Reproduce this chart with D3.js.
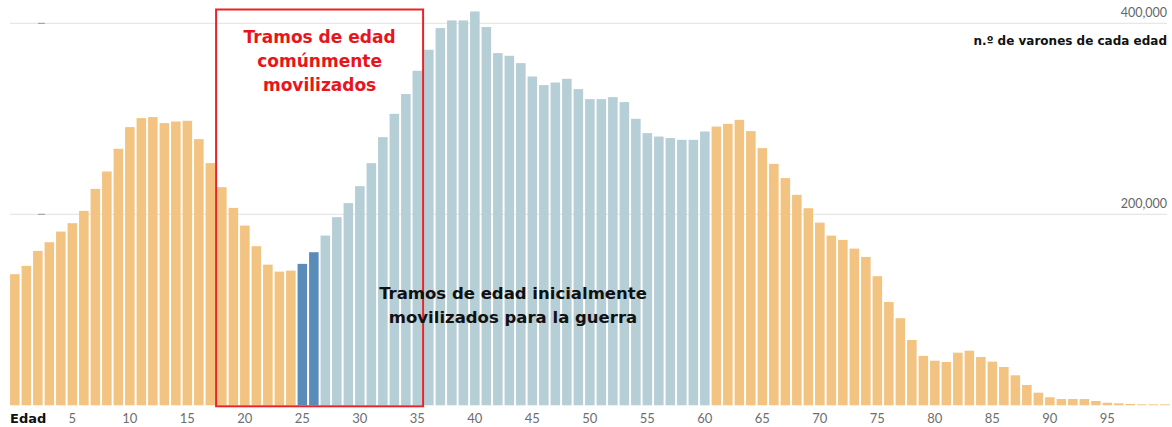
<!DOCTYPE html>
<html>
<head>
<meta charset="utf-8">
<style>
  body { margin: 0; background: #fff; }
  text { font-family: Lato, "Noto Sans", sans-serif; }
</style>
</head>
<body>
<script src="https://d3js.org/d3.v7.min.js"></script>
<script>
var width = 1172, height = 427;

// ages 0..100
var ages = d3.range(0, 101);

// n.º de varones de cada edad (in thousands)
var men = [
  137.3, 146.0, 161.7, 170.8, 181.9, 190.7, 203.6, 226.6, 244.8, 268.6,
  291.3, 300.7, 301.8, 295.5, 297.2, 297.9, 278.7, 253.6, 228.4, 206.7,
  188.2, 166.6, 147.3, 140.0, 141.0, 148.1, 160.3, 177.7, 197.0, 211.7,
  229.5, 253.6, 280.8, 305.2, 325.9, 350.3, 372.3, 395.0, 403.0, 403.0,
  412.4, 396.1, 368.8, 366.0, 358.3, 344.3, 335.3, 338.0, 341.9, 331.1,
  320.6, 320.6, 322.7, 317.5, 300.0, 285.0, 281.4, 279.8, 278.0, 278.0,
  286.7, 291.9, 294.7, 298.9, 287.1, 269.3, 252.8, 237.9, 220.4, 206.4,
  191.3, 177.7, 173.2, 164.1, 155.4, 135.2, 108.2, 91.2, 68.4, 51.7,
  46.7, 45.4, 55.1, 57.2, 50.6, 45.7, 40.1, 31.4, 21.3, 13.2,
  8.4, 6.6, 6.6, 6.6, 4.5, 2.7, 2.1, 1.4, 1.0, 1.0, 1.0
].map(function(v) { return v * 1000; });

var tickAges = [5, 10, 15, 20, 25, 30, 35, 40, 45, 50, 55, 60, 65, 70, 75, 80, 85, 90, 95];
var gridValues = [200000, 400000];

// groups of ages
var initialAges = [25, 26];          // dark blue
var mobilizedRange = [27, 60];       // light blue
var commonRange = [18, 35];          // red box

var colors = { other: "#f3c381", initial: "#5a8cb9", mobilized: "#b6ced6" };
var boldFont = "'DejaVu Sans', sans-serif";

var svg = d3.select("body").append("svg")
  .attr("width", width)
  .attr("height", height);

var x = d3.scaleBand()
  .domain(ages)
  .range([9.1, 9.1 + 101 * 11.5])
  .paddingInner(0.17)
  .paddingOuter(0.085);

var y = d3.scaleLinear()
  .domain([0, 400000])
  .range([405.3, 23.3]);

// gridlines
svg.selectAll(".grid")
  .data(gridValues)
  .enter().append("line")
  .attr("class", "grid")
  .attr("x1", 10).attr("x2", 1167)
  .attr("y1", function(d) { return y(d); })
  .attr("y2", function(d) { return y(d); })
  .style("stroke", "#e2e2e2")
  .style("stroke-width", 1);

svg.selectAll(".gridmark")
  .data(gridValues)
  .enter().append("line")
  .attr("x1", 38).attr("x2", 45)
  .attr("y1", function(d) { return y(d); })
  .attr("y2", function(d) { return y(d); })
  .style("stroke", "#999")
  .style("stroke-width", 1);

svg.selectAll(".gridlabel")
  .data(gridValues)
  .enter().append("text")
  .attr("x", 1167)
  .attr("y", function(d) { return y(d) - 6; })
  .attr("text-anchor", "end")
  .style("font-size", "12.5px")
  .style("fill", "#666")
  .text(function(d) { return d3.format(",")(d); });

// bars
svg.selectAll(".bar")
  .data(ages)
  .enter().append("rect")
  .attr("class", "bar")
  .attr("x", function(d) { return x(d); })
  .attr("width", x.bandwidth())
  .attr("y", function(d) { return y(men[d]); })
  .attr("height", function(d) { return y(0) - y(men[d]); })
  .style("fill", function(d) {
    if (initialAges.indexOf(d) >= 0) return colors.initial;
    if (d >= mobilizedRange[0] && d <= mobilizedRange[1]) return colors.mobilized;
    return colors.other;
  });

// x axis
var xAxis = d3.axisBottom(x).tickValues(tickAges).tickSize(0).tickPadding(8);
var gx = svg.append("g")
  .attr("transform", "translate(0," + y(0) + ")")
  .call(xAxis);
gx.select(".domain").remove();
gx.selectAll("text")
  .style("font-family", "Lato, sans-serif")
  .style("font-size", "13px")
  .style("fill", "#6e6e6e");

svg.append("text")
  .attr("x", 10).attr("y", 423)
  .style("font-family", boldFont)
  .style("font-size", "13px")
  .style("font-weight", "bold")
  .style("fill", "#111")
  .text("Edad");

svg.append("text")
  .attr("x", 1167).attr("y", 45)
  .attr("text-anchor", "end")
  .style("font-family", boldFont)
  .style("font-size", "12px")
  .style("font-weight", "bold")
  .style("fill", "#111")
  .text("n.º de varones de cada edad");

// red box for commonly mobilized ages
var boxLeft = x(commonRange[0]) - x.step() * x.paddingInner() / 2;
var boxRight = x(commonRange[1]) + x.bandwidth() + x.step() * x.paddingInner() / 2;
svg.append("rect")
  .attr("x", boxLeft)
  .attr("y", 9.5)
  .attr("width", boxRight - boxLeft)
  .attr("height", y(0) + 1 - 9.5)
  .style("fill", "none")
  .style("stroke", "#e8232a")
  .style("stroke-width", 2);

var redLines = ["Tramos de edad", "comúnmente", "movilizados"];
svg.selectAll(".redlabel")
  .data(redLines)
  .enter().append("text")
  .attr("x", (boxLeft + boxRight) / 2)
  .attr("y", function(d, i) { return 43 + i * 24; })
  .attr("text-anchor", "middle")
  .style("font-family", boldFont)
  .style("font-size", "17px")
  .style("font-weight", "bold")
  .style("fill", "#e8151b")
  .text(function(d) { return d; });

var blackLines = ["Tramos de edad inicialmente", "movilizados para la guerra"];
svg.selectAll(".blacklabel")
  .data(blackLines)
  .enter().append("text")
  .attr("x", 513)
  .attr("y", function(d, i) { return 299 + i * 24; })
  .attr("text-anchor", "middle")
  .style("font-family", boldFont)
  .style("font-size", "16.5px")
  .style("font-weight", "bold")
  .style("fill", "#111")
  .text(function(d) { return d; });
</script>
</body>
</html>
